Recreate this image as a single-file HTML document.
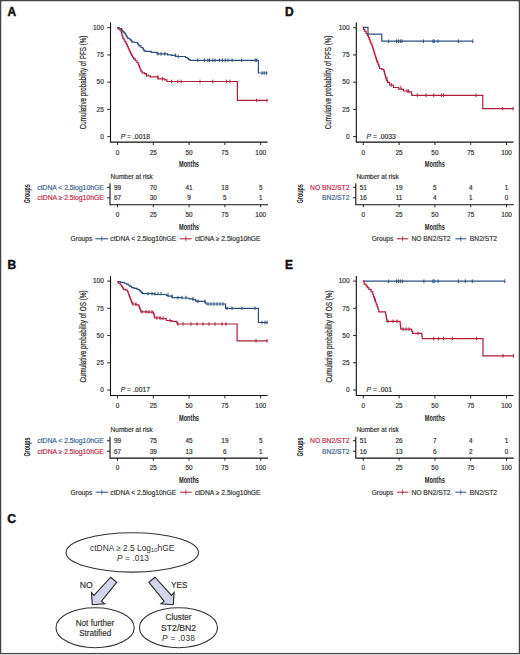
<!DOCTYPE html>
<html><head><meta charset="utf-8"><style>
html,body{margin:0;padding:0;background:#fff;}
svg{display:block;}
text{font-family:"Liberation Sans", sans-serif;}
</style></head><body>
<svg width="520" height="655" viewBox="0 0 520 655">
<rect x="0" y="0" width="520" height="655" fill="#fff"/>

<text x="7.40" y="15.80" font-size="12.0" text-anchor="start" fill="#111" font-weight="bold" font-style="normal" stroke="#111" stroke-width="0.45">A</text>
<path d="M110.50,22.50 V142.15 H267.60" fill="none" stroke="#111" stroke-width="1.1"/>
<line x1="107.20" y1="27.70" x2="110.50" y2="27.70" stroke="#111" stroke-width="0.9"/>
<text x="103.80" y="30.00" font-size="6.5" text-anchor="end" fill="#333" stroke="#333" stroke-width="0.18" font-weight="normal" font-style="normal" >100</text>
<line x1="107.20" y1="54.93" x2="110.50" y2="54.93" stroke="#111" stroke-width="0.9"/>
<text x="103.80" y="57.23" font-size="6.5" text-anchor="end" fill="#333" stroke="#333" stroke-width="0.18" font-weight="normal" font-style="normal" >75</text>
<line x1="107.20" y1="82.16" x2="110.50" y2="82.16" stroke="#111" stroke-width="0.9"/>
<text x="103.80" y="84.46" font-size="6.5" text-anchor="end" fill="#333" stroke="#333" stroke-width="0.18" font-weight="normal" font-style="normal" >50</text>
<line x1="107.20" y1="109.39" x2="110.50" y2="109.39" stroke="#111" stroke-width="0.9"/>
<text x="103.80" y="111.69" font-size="6.5" text-anchor="end" fill="#333" stroke="#333" stroke-width="0.18" font-weight="normal" font-style="normal" >25</text>
<line x1="107.20" y1="136.62" x2="110.50" y2="136.62" stroke="#111" stroke-width="0.9"/>
<text x="103.80" y="138.92" font-size="6.5" text-anchor="end" fill="#333" stroke="#333" stroke-width="0.18" font-weight="normal" font-style="normal" >0</text>
<line x1="117.50" y1="142.15" x2="117.50" y2="145.00" stroke="#111" stroke-width="0.9"/>
<text x="117.50" y="154.60" font-size="6.4" text-anchor="middle" fill="#333" stroke="#333" stroke-width="0.18" font-weight="normal" font-style="normal" >0</text>
<line x1="153.30" y1="142.15" x2="153.30" y2="145.00" stroke="#111" stroke-width="0.9"/>
<text x="153.30" y="154.60" font-size="6.4" text-anchor="middle" fill="#333" stroke="#333" stroke-width="0.18" font-weight="normal" font-style="normal" >25</text>
<line x1="189.10" y1="142.15" x2="189.10" y2="145.00" stroke="#111" stroke-width="0.9"/>
<text x="189.10" y="154.60" font-size="6.4" text-anchor="middle" fill="#333" stroke="#333" stroke-width="0.18" font-weight="normal" font-style="normal" >50</text>
<line x1="224.90" y1="142.15" x2="224.90" y2="145.00" stroke="#111" stroke-width="0.9"/>
<text x="224.90" y="154.60" font-size="6.4" text-anchor="middle" fill="#333" stroke="#333" stroke-width="0.18" font-weight="normal" font-style="normal" >75</text>
<line x1="260.70" y1="142.15" x2="260.70" y2="145.00" stroke="#111" stroke-width="0.9"/>
<text x="260.70" y="154.60" font-size="6.4" text-anchor="middle" fill="#333" stroke="#333" stroke-width="0.18" font-weight="normal" font-style="normal" >100</text>
<text x="189.00" y="167.30" font-size="8.6" text-anchor="middle" fill="#222" font-weight="bold" font-style="normal" textLength="20" lengthAdjust="spacingAndGlyphs" >Months</text>
<text x="0" y="0" font-size="9.4" text-anchor="middle" fill="#2a2a2a" stroke="#2a2a2a" stroke-width="0.22" textLength="93.5" lengthAdjust="spacingAndGlyphs" transform="translate(86.40,82.40) rotate(-90)">Cumulative probability of PFS (%)</text>
<text x="120.70" y="138.50" font-size="6.8" fill="#333" stroke="#333" stroke-width="0.18"><tspan font-style="italic">P</tspan> = .0018</text>
<text x="110.60" y="178.70" font-size="6.5" text-anchor="start" fill="#333" stroke="#333" stroke-width="0.18" font-weight="normal" font-style="normal" >Number at risk</text>
<path d="M110.00,183.30 V204.70 H268.00" fill="none" stroke="#111" stroke-width="1.1"/>
<line x1="107.00" y1="187.30" x2="110.00" y2="187.30" stroke="#111" stroke-width="0.9"/>
<text x="103.70" y="189.60" font-size="6.78" text-anchor="end" fill="#3a6592" stroke="#3a6592" stroke-width="0.18" font-weight="normal" font-style="normal" >ctDNA &lt; 2.5log10hGE</text>
<text x="117.50" y="189.60" font-size="6.4" text-anchor="middle" fill="#333" stroke="#333" stroke-width="0.18" font-weight="normal" font-style="normal" >99</text>
<text x="153.30" y="189.60" font-size="6.4" text-anchor="middle" fill="#333" stroke="#333" stroke-width="0.18" font-weight="normal" font-style="normal" >70</text>
<text x="189.10" y="189.60" font-size="6.4" text-anchor="middle" fill="#333" stroke="#333" stroke-width="0.18" font-weight="normal" font-style="normal" >41</text>
<text x="224.90" y="189.60" font-size="6.4" text-anchor="middle" fill="#333" stroke="#333" stroke-width="0.18" font-weight="normal" font-style="normal" >18</text>
<text x="260.70" y="189.60" font-size="6.4" text-anchor="middle" fill="#333" stroke="#333" stroke-width="0.18" font-weight="normal" font-style="normal" >5</text>
<line x1="107.00" y1="197.80" x2="110.00" y2="197.80" stroke="#111" stroke-width="0.9"/>
<text x="103.70" y="200.10" font-size="6.78" text-anchor="end" fill="#c02a48" stroke="#c02a48" stroke-width="0.18" font-weight="normal" font-style="normal" >ctDNA ≥ 2.5log10hGE</text>
<text x="117.50" y="200.10" font-size="6.4" text-anchor="middle" fill="#333" stroke="#333" stroke-width="0.18" font-weight="normal" font-style="normal" >67</text>
<text x="153.30" y="200.10" font-size="6.4" text-anchor="middle" fill="#333" stroke="#333" stroke-width="0.18" font-weight="normal" font-style="normal" >30</text>
<text x="189.10" y="200.10" font-size="6.4" text-anchor="middle" fill="#333" stroke="#333" stroke-width="0.18" font-weight="normal" font-style="normal" >9</text>
<text x="224.90" y="200.10" font-size="6.4" text-anchor="middle" fill="#333" stroke="#333" stroke-width="0.18" font-weight="normal" font-style="normal" >5</text>
<text x="260.70" y="200.10" font-size="6.4" text-anchor="middle" fill="#333" stroke="#333" stroke-width="0.18" font-weight="normal" font-style="normal" >1</text>
<line x1="117.50" y1="204.70" x2="117.50" y2="207.30" stroke="#111" stroke-width="0.9"/>
<text x="117.50" y="217.00" font-size="6.4" text-anchor="middle" fill="#333" stroke="#333" stroke-width="0.18" font-weight="normal" font-style="normal" >0</text>
<line x1="153.30" y1="204.70" x2="153.30" y2="207.30" stroke="#111" stroke-width="0.9"/>
<text x="153.30" y="217.00" font-size="6.4" text-anchor="middle" fill="#333" stroke="#333" stroke-width="0.18" font-weight="normal" font-style="normal" >25</text>
<line x1="189.10" y1="204.70" x2="189.10" y2="207.30" stroke="#111" stroke-width="0.9"/>
<text x="189.10" y="217.00" font-size="6.4" text-anchor="middle" fill="#333" stroke="#333" stroke-width="0.18" font-weight="normal" font-style="normal" >50</text>
<line x1="224.90" y1="204.70" x2="224.90" y2="207.30" stroke="#111" stroke-width="0.9"/>
<text x="224.90" y="217.00" font-size="6.4" text-anchor="middle" fill="#333" stroke="#333" stroke-width="0.18" font-weight="normal" font-style="normal" >75</text>
<line x1="260.70" y1="204.70" x2="260.70" y2="207.30" stroke="#111" stroke-width="0.9"/>
<text x="260.70" y="217.00" font-size="6.4" text-anchor="middle" fill="#333" stroke="#333" stroke-width="0.18" font-weight="normal" font-style="normal" >100</text>
<text x="189.00" y="229.70" font-size="8.6" text-anchor="middle" fill="#222" font-weight="bold" font-style="normal" textLength="20" lengthAdjust="spacingAndGlyphs" >Months</text>
<text x="0" y="0" font-size="8.6" text-anchor="middle" fill="#222" textLength="19" lengthAdjust="spacingAndGlyphs" transform="translate(30.20,193.70) rotate(-90)" font-weight="bold">Groups</text>
<text x="70.60" y="241.30" font-size="6.6" text-anchor="start" fill="#333" stroke="#333" stroke-width="0.18" font-weight="normal" font-style="normal" >Groups</text>
<line x1="95.50" y1="238.80" x2="108.20" y2="238.80" stroke="#2c4f7c" stroke-width="1.05"/>
<line x1="101.85" y1="236.20" x2="101.85" y2="241.40" stroke="#2c4f7c" stroke-width="0.75"/>
<text x="110.30" y="241.30" font-size="6.72" text-anchor="start" fill="#333" stroke="#333" stroke-width="0.18" font-weight="normal" font-style="normal" >ctDNA &lt; 2.5log10hGE</text>
<line x1="180.00" y1="238.80" x2="191.70" y2="238.80" stroke="#b01e3e" stroke-width="1.05"/>
<line x1="185.85" y1="236.20" x2="185.85" y2="241.40" stroke="#b01e3e" stroke-width="0.75"/>
<text x="194.90" y="241.30" font-size="6.72" text-anchor="start" fill="#333" stroke="#333" stroke-width="0.18" font-weight="normal" font-style="normal" >ctDNA ≥ 2.5log10hGE</text>
<text x="7.40" y="269.10" font-size="12.0" text-anchor="start" fill="#111" font-weight="bold" font-style="normal" stroke="#111" stroke-width="0.45">B</text>
<path d="M110.50,275.90 V395.55 H267.60" fill="none" stroke="#111" stroke-width="1.1"/>
<line x1="107.20" y1="281.10" x2="110.50" y2="281.10" stroke="#111" stroke-width="0.9"/>
<text x="103.80" y="283.40" font-size="6.5" text-anchor="end" fill="#333" stroke="#333" stroke-width="0.18" font-weight="normal" font-style="normal" >100</text>
<line x1="107.20" y1="308.33" x2="110.50" y2="308.33" stroke="#111" stroke-width="0.9"/>
<text x="103.80" y="310.63" font-size="6.5" text-anchor="end" fill="#333" stroke="#333" stroke-width="0.18" font-weight="normal" font-style="normal" >75</text>
<line x1="107.20" y1="335.56" x2="110.50" y2="335.56" stroke="#111" stroke-width="0.9"/>
<text x="103.80" y="337.86" font-size="6.5" text-anchor="end" fill="#333" stroke="#333" stroke-width="0.18" font-weight="normal" font-style="normal" >50</text>
<line x1="107.20" y1="362.79" x2="110.50" y2="362.79" stroke="#111" stroke-width="0.9"/>
<text x="103.80" y="365.09" font-size="6.5" text-anchor="end" fill="#333" stroke="#333" stroke-width="0.18" font-weight="normal" font-style="normal" >25</text>
<line x1="107.20" y1="390.02" x2="110.50" y2="390.02" stroke="#111" stroke-width="0.9"/>
<text x="103.80" y="392.32" font-size="6.5" text-anchor="end" fill="#333" stroke="#333" stroke-width="0.18" font-weight="normal" font-style="normal" >0</text>
<line x1="117.50" y1="395.55" x2="117.50" y2="398.40" stroke="#111" stroke-width="0.9"/>
<text x="117.50" y="408.00" font-size="6.4" text-anchor="middle" fill="#333" stroke="#333" stroke-width="0.18" font-weight="normal" font-style="normal" >0</text>
<line x1="153.30" y1="395.55" x2="153.30" y2="398.40" stroke="#111" stroke-width="0.9"/>
<text x="153.30" y="408.00" font-size="6.4" text-anchor="middle" fill="#333" stroke="#333" stroke-width="0.18" font-weight="normal" font-style="normal" >25</text>
<line x1="189.10" y1="395.55" x2="189.10" y2="398.40" stroke="#111" stroke-width="0.9"/>
<text x="189.10" y="408.00" font-size="6.4" text-anchor="middle" fill="#333" stroke="#333" stroke-width="0.18" font-weight="normal" font-style="normal" >50</text>
<line x1="224.90" y1="395.55" x2="224.90" y2="398.40" stroke="#111" stroke-width="0.9"/>
<text x="224.90" y="408.00" font-size="6.4" text-anchor="middle" fill="#333" stroke="#333" stroke-width="0.18" font-weight="normal" font-style="normal" >75</text>
<line x1="260.70" y1="395.55" x2="260.70" y2="398.40" stroke="#111" stroke-width="0.9"/>
<text x="260.70" y="408.00" font-size="6.4" text-anchor="middle" fill="#333" stroke="#333" stroke-width="0.18" font-weight="normal" font-style="normal" >100</text>
<text x="189.00" y="420.70" font-size="8.6" text-anchor="middle" fill="#222" font-weight="bold" font-style="normal" textLength="20" lengthAdjust="spacingAndGlyphs" >Months</text>
<text x="0" y="0" font-size="9.4" text-anchor="middle" fill="#2a2a2a" stroke="#2a2a2a" stroke-width="0.22" textLength="92" lengthAdjust="spacingAndGlyphs" transform="translate(86.40,336.50) rotate(-90)">Cumulative probability of OS (%)</text>
<text x="120.70" y="391.90" font-size="6.8" fill="#333" stroke="#333" stroke-width="0.18"><tspan font-style="italic">P</tspan> = .0017</text>
<text x="110.60" y="432.10" font-size="6.5" text-anchor="start" fill="#333" stroke="#333" stroke-width="0.18" font-weight="normal" font-style="normal" >Number at risk</text>
<path d="M110.00,436.70 V458.10 H268.00" fill="none" stroke="#111" stroke-width="1.1"/>
<line x1="107.00" y1="440.70" x2="110.00" y2="440.70" stroke="#111" stroke-width="0.9"/>
<text x="103.70" y="443.00" font-size="6.78" text-anchor="end" fill="#3a6592" stroke="#3a6592" stroke-width="0.18" font-weight="normal" font-style="normal" >ctDNA &lt; 2.5log10hGE</text>
<text x="117.50" y="443.00" font-size="6.4" text-anchor="middle" fill="#333" stroke="#333" stroke-width="0.18" font-weight="normal" font-style="normal" >99</text>
<text x="153.30" y="443.00" font-size="6.4" text-anchor="middle" fill="#333" stroke="#333" stroke-width="0.18" font-weight="normal" font-style="normal" >75</text>
<text x="189.10" y="443.00" font-size="6.4" text-anchor="middle" fill="#333" stroke="#333" stroke-width="0.18" font-weight="normal" font-style="normal" >45</text>
<text x="224.90" y="443.00" font-size="6.4" text-anchor="middle" fill="#333" stroke="#333" stroke-width="0.18" font-weight="normal" font-style="normal" >19</text>
<text x="260.70" y="443.00" font-size="6.4" text-anchor="middle" fill="#333" stroke="#333" stroke-width="0.18" font-weight="normal" font-style="normal" >5</text>
<line x1="107.00" y1="451.20" x2="110.00" y2="451.20" stroke="#111" stroke-width="0.9"/>
<text x="103.70" y="453.50" font-size="6.78" text-anchor="end" fill="#c02a48" stroke="#c02a48" stroke-width="0.18" font-weight="normal" font-style="normal" >ctDNA ≥ 2.5log10hGE</text>
<text x="117.50" y="453.50" font-size="6.4" text-anchor="middle" fill="#333" stroke="#333" stroke-width="0.18" font-weight="normal" font-style="normal" >67</text>
<text x="153.30" y="453.50" font-size="6.4" text-anchor="middle" fill="#333" stroke="#333" stroke-width="0.18" font-weight="normal" font-style="normal" >39</text>
<text x="189.10" y="453.50" font-size="6.4" text-anchor="middle" fill="#333" stroke="#333" stroke-width="0.18" font-weight="normal" font-style="normal" >13</text>
<text x="224.90" y="453.50" font-size="6.4" text-anchor="middle" fill="#333" stroke="#333" stroke-width="0.18" font-weight="normal" font-style="normal" >6</text>
<text x="260.70" y="453.50" font-size="6.4" text-anchor="middle" fill="#333" stroke="#333" stroke-width="0.18" font-weight="normal" font-style="normal" >1</text>
<line x1="117.50" y1="458.10" x2="117.50" y2="460.70" stroke="#111" stroke-width="0.9"/>
<text x="117.50" y="470.40" font-size="6.4" text-anchor="middle" fill="#333" stroke="#333" stroke-width="0.18" font-weight="normal" font-style="normal" >0</text>
<line x1="153.30" y1="458.10" x2="153.30" y2="460.70" stroke="#111" stroke-width="0.9"/>
<text x="153.30" y="470.40" font-size="6.4" text-anchor="middle" fill="#333" stroke="#333" stroke-width="0.18" font-weight="normal" font-style="normal" >25</text>
<line x1="189.10" y1="458.10" x2="189.10" y2="460.70" stroke="#111" stroke-width="0.9"/>
<text x="189.10" y="470.40" font-size="6.4" text-anchor="middle" fill="#333" stroke="#333" stroke-width="0.18" font-weight="normal" font-style="normal" >50</text>
<line x1="224.90" y1="458.10" x2="224.90" y2="460.70" stroke="#111" stroke-width="0.9"/>
<text x="224.90" y="470.40" font-size="6.4" text-anchor="middle" fill="#333" stroke="#333" stroke-width="0.18" font-weight="normal" font-style="normal" >75</text>
<line x1="260.70" y1="458.10" x2="260.70" y2="460.70" stroke="#111" stroke-width="0.9"/>
<text x="260.70" y="470.40" font-size="6.4" text-anchor="middle" fill="#333" stroke="#333" stroke-width="0.18" font-weight="normal" font-style="normal" >100</text>
<text x="189.00" y="483.10" font-size="8.6" text-anchor="middle" fill="#222" font-weight="bold" font-style="normal" textLength="20" lengthAdjust="spacingAndGlyphs" >Months</text>
<text x="0" y="0" font-size="8.6" text-anchor="middle" fill="#222" textLength="19" lengthAdjust="spacingAndGlyphs" transform="translate(30.20,447.10) rotate(-90)" font-weight="bold">Groups</text>
<text x="70.60" y="494.70" font-size="6.6" text-anchor="start" fill="#333" stroke="#333" stroke-width="0.18" font-weight="normal" font-style="normal" >Groups</text>
<line x1="95.50" y1="492.20" x2="108.20" y2="492.20" stroke="#2c4f7c" stroke-width="1.05"/>
<line x1="101.85" y1="489.60" x2="101.85" y2="494.80" stroke="#2c4f7c" stroke-width="0.75"/>
<text x="110.30" y="494.70" font-size="6.72" text-anchor="start" fill="#333" stroke="#333" stroke-width="0.18" font-weight="normal" font-style="normal" >ctDNA &lt; 2.5log10hGE</text>
<line x1="180.00" y1="492.20" x2="191.70" y2="492.20" stroke="#b01e3e" stroke-width="1.05"/>
<line x1="185.85" y1="489.60" x2="185.85" y2="494.80" stroke="#b01e3e" stroke-width="0.75"/>
<text x="194.90" y="494.70" font-size="6.72" text-anchor="start" fill="#333" stroke="#333" stroke-width="0.18" font-weight="normal" font-style="normal" >ctDNA ≥ 2.5log10hGE</text>
<text x="285.00" y="15.80" font-size="12.0" text-anchor="start" fill="#111" font-weight="bold" font-style="normal" stroke="#111" stroke-width="0.45">D</text>
<path d="M356.30,22.50 V142.15 H513.40" fill="none" stroke="#111" stroke-width="1.1"/>
<line x1="353.00" y1="27.70" x2="356.30" y2="27.70" stroke="#111" stroke-width="0.9"/>
<text x="349.60" y="30.00" font-size="6.5" text-anchor="end" fill="#333" stroke="#333" stroke-width="0.18" font-weight="normal" font-style="normal" >100</text>
<line x1="353.00" y1="54.93" x2="356.30" y2="54.93" stroke="#111" stroke-width="0.9"/>
<text x="349.60" y="57.23" font-size="6.5" text-anchor="end" fill="#333" stroke="#333" stroke-width="0.18" font-weight="normal" font-style="normal" >75</text>
<line x1="353.00" y1="82.16" x2="356.30" y2="82.16" stroke="#111" stroke-width="0.9"/>
<text x="349.60" y="84.46" font-size="6.5" text-anchor="end" fill="#333" stroke="#333" stroke-width="0.18" font-weight="normal" font-style="normal" >50</text>
<line x1="353.00" y1="109.39" x2="356.30" y2="109.39" stroke="#111" stroke-width="0.9"/>
<text x="349.60" y="111.69" font-size="6.5" text-anchor="end" fill="#333" stroke="#333" stroke-width="0.18" font-weight="normal" font-style="normal" >25</text>
<line x1="353.00" y1="136.62" x2="356.30" y2="136.62" stroke="#111" stroke-width="0.9"/>
<text x="349.60" y="138.92" font-size="6.5" text-anchor="end" fill="#333" stroke="#333" stroke-width="0.18" font-weight="normal" font-style="normal" >0</text>
<line x1="363.30" y1="142.15" x2="363.30" y2="145.00" stroke="#111" stroke-width="0.9"/>
<text x="363.30" y="154.60" font-size="6.4" text-anchor="middle" fill="#333" stroke="#333" stroke-width="0.18" font-weight="normal" font-style="normal" >0</text>
<line x1="399.10" y1="142.15" x2="399.10" y2="145.00" stroke="#111" stroke-width="0.9"/>
<text x="399.10" y="154.60" font-size="6.4" text-anchor="middle" fill="#333" stroke="#333" stroke-width="0.18" font-weight="normal" font-style="normal" >25</text>
<line x1="434.90" y1="142.15" x2="434.90" y2="145.00" stroke="#111" stroke-width="0.9"/>
<text x="434.90" y="154.60" font-size="6.4" text-anchor="middle" fill="#333" stroke="#333" stroke-width="0.18" font-weight="normal" font-style="normal" >50</text>
<line x1="470.70" y1="142.15" x2="470.70" y2="145.00" stroke="#111" stroke-width="0.9"/>
<text x="470.70" y="154.60" font-size="6.4" text-anchor="middle" fill="#333" stroke="#333" stroke-width="0.18" font-weight="normal" font-style="normal" >75</text>
<line x1="506.50" y1="142.15" x2="506.50" y2="145.00" stroke="#111" stroke-width="0.9"/>
<text x="506.50" y="154.60" font-size="6.4" text-anchor="middle" fill="#333" stroke="#333" stroke-width="0.18" font-weight="normal" font-style="normal" >100</text>
<text x="434.80" y="167.30" font-size="8.6" text-anchor="middle" fill="#222" font-weight="bold" font-style="normal" textLength="20" lengthAdjust="spacingAndGlyphs" >Months</text>
<text x="0" y="0" font-size="9.4" text-anchor="middle" fill="#2a2a2a" stroke="#2a2a2a" stroke-width="0.22" textLength="93.5" lengthAdjust="spacingAndGlyphs" transform="translate(331.20,82.40) rotate(-90)">Cumulative probability of PFS (%)</text>
<text x="366.50" y="138.50" font-size="6.8" fill="#333" stroke="#333" stroke-width="0.18"><tspan font-style="italic">P</tspan> = .0033</text>
<text x="356.40" y="178.70" font-size="6.5" text-anchor="start" fill="#333" stroke="#333" stroke-width="0.18" font-weight="normal" font-style="normal" >Number at risk</text>
<path d="M355.80,183.30 V204.70 H513.80" fill="none" stroke="#111" stroke-width="1.1"/>
<line x1="352.80" y1="187.30" x2="355.80" y2="187.30" stroke="#111" stroke-width="0.9"/>
<text x="349.50" y="189.60" font-size="6.78" text-anchor="end" fill="#c02a48" stroke="#c02a48" stroke-width="0.18" font-weight="normal" font-style="normal" >NO BN2/ST2</text>
<text x="363.30" y="189.60" font-size="6.4" text-anchor="middle" fill="#333" stroke="#333" stroke-width="0.18" font-weight="normal" font-style="normal" >51</text>
<text x="399.10" y="189.60" font-size="6.4" text-anchor="middle" fill="#333" stroke="#333" stroke-width="0.18" font-weight="normal" font-style="normal" >19</text>
<text x="434.90" y="189.60" font-size="6.4" text-anchor="middle" fill="#333" stroke="#333" stroke-width="0.18" font-weight="normal" font-style="normal" >5</text>
<text x="470.70" y="189.60" font-size="6.4" text-anchor="middle" fill="#333" stroke="#333" stroke-width="0.18" font-weight="normal" font-style="normal" >4</text>
<text x="506.50" y="189.60" font-size="6.4" text-anchor="middle" fill="#333" stroke="#333" stroke-width="0.18" font-weight="normal" font-style="normal" >1</text>
<line x1="352.80" y1="197.80" x2="355.80" y2="197.80" stroke="#111" stroke-width="0.9"/>
<text x="349.50" y="200.10" font-size="6.78" text-anchor="end" fill="#3a6592" stroke="#3a6592" stroke-width="0.18" font-weight="normal" font-style="normal" >BN2/ST2</text>
<text x="363.30" y="200.10" font-size="6.4" text-anchor="middle" fill="#333" stroke="#333" stroke-width="0.18" font-weight="normal" font-style="normal" >16</text>
<text x="399.10" y="200.10" font-size="6.4" text-anchor="middle" fill="#333" stroke="#333" stroke-width="0.18" font-weight="normal" font-style="normal" >11</text>
<text x="434.90" y="200.10" font-size="6.4" text-anchor="middle" fill="#333" stroke="#333" stroke-width="0.18" font-weight="normal" font-style="normal" >4</text>
<text x="470.70" y="200.10" font-size="6.4" text-anchor="middle" fill="#333" stroke="#333" stroke-width="0.18" font-weight="normal" font-style="normal" >1</text>
<text x="506.50" y="200.10" font-size="6.4" text-anchor="middle" fill="#333" stroke="#333" stroke-width="0.18" font-weight="normal" font-style="normal" >0</text>
<line x1="363.30" y1="204.70" x2="363.30" y2="207.30" stroke="#111" stroke-width="0.9"/>
<text x="363.30" y="217.00" font-size="6.4" text-anchor="middle" fill="#333" stroke="#333" stroke-width="0.18" font-weight="normal" font-style="normal" >0</text>
<line x1="399.10" y1="204.70" x2="399.10" y2="207.30" stroke="#111" stroke-width="0.9"/>
<text x="399.10" y="217.00" font-size="6.4" text-anchor="middle" fill="#333" stroke="#333" stroke-width="0.18" font-weight="normal" font-style="normal" >25</text>
<line x1="434.90" y1="204.70" x2="434.90" y2="207.30" stroke="#111" stroke-width="0.9"/>
<text x="434.90" y="217.00" font-size="6.4" text-anchor="middle" fill="#333" stroke="#333" stroke-width="0.18" font-weight="normal" font-style="normal" >50</text>
<line x1="470.70" y1="204.70" x2="470.70" y2="207.30" stroke="#111" stroke-width="0.9"/>
<text x="470.70" y="217.00" font-size="6.4" text-anchor="middle" fill="#333" stroke="#333" stroke-width="0.18" font-weight="normal" font-style="normal" >75</text>
<line x1="506.50" y1="204.70" x2="506.50" y2="207.30" stroke="#111" stroke-width="0.9"/>
<text x="506.50" y="217.00" font-size="6.4" text-anchor="middle" fill="#333" stroke="#333" stroke-width="0.18" font-weight="normal" font-style="normal" >100</text>
<text x="434.80" y="229.70" font-size="8.6" text-anchor="middle" fill="#222" font-weight="bold" font-style="normal" textLength="20" lengthAdjust="spacingAndGlyphs" >Months</text>
<text x="0" y="0" font-size="8.6" text-anchor="middle" fill="#222" textLength="19" lengthAdjust="spacingAndGlyphs" transform="translate(303.30,193.70) rotate(-90)" font-weight="bold">Groups</text>
<text x="371.70" y="241.30" font-size="6.6" text-anchor="start" fill="#333" stroke="#333" stroke-width="0.18" font-weight="normal" font-style="normal" >Groups</text>
<line x1="396.90" y1="238.80" x2="408.30" y2="238.80" stroke="#b01e3e" stroke-width="1.05"/>
<line x1="402.60" y1="236.20" x2="402.60" y2="241.40" stroke="#b01e3e" stroke-width="0.75"/>
<text x="411.40" y="241.30" font-size="6.72" text-anchor="start" fill="#333" stroke="#333" stroke-width="0.18" font-weight="normal" font-style="normal" >NO BN2/ST2</text>
<line x1="455.40" y1="238.80" x2="466.20" y2="238.80" stroke="#2c4f7c" stroke-width="1.05"/>
<line x1="460.80" y1="236.20" x2="460.80" y2="241.40" stroke="#2c4f7c" stroke-width="0.75"/>
<text x="469.80" y="241.30" font-size="6.72" text-anchor="start" fill="#333" stroke="#333" stroke-width="0.18" font-weight="normal" font-style="normal" >BN2/ST2</text>
<text x="285.00" y="269.10" font-size="12.0" text-anchor="start" fill="#111" font-weight="bold" font-style="normal" stroke="#111" stroke-width="0.45">E</text>
<path d="M356.30,275.90 V395.55 H513.40" fill="none" stroke="#111" stroke-width="1.1"/>
<line x1="353.00" y1="281.10" x2="356.30" y2="281.10" stroke="#111" stroke-width="0.9"/>
<text x="349.60" y="283.40" font-size="6.5" text-anchor="end" fill="#333" stroke="#333" stroke-width="0.18" font-weight="normal" font-style="normal" >100</text>
<line x1="353.00" y1="308.33" x2="356.30" y2="308.33" stroke="#111" stroke-width="0.9"/>
<text x="349.60" y="310.63" font-size="6.5" text-anchor="end" fill="#333" stroke="#333" stroke-width="0.18" font-weight="normal" font-style="normal" >75</text>
<line x1="353.00" y1="335.56" x2="356.30" y2="335.56" stroke="#111" stroke-width="0.9"/>
<text x="349.60" y="337.86" font-size="6.5" text-anchor="end" fill="#333" stroke="#333" stroke-width="0.18" font-weight="normal" font-style="normal" >50</text>
<line x1="353.00" y1="362.79" x2="356.30" y2="362.79" stroke="#111" stroke-width="0.9"/>
<text x="349.60" y="365.09" font-size="6.5" text-anchor="end" fill="#333" stroke="#333" stroke-width="0.18" font-weight="normal" font-style="normal" >25</text>
<line x1="353.00" y1="390.02" x2="356.30" y2="390.02" stroke="#111" stroke-width="0.9"/>
<text x="349.60" y="392.32" font-size="6.5" text-anchor="end" fill="#333" stroke="#333" stroke-width="0.18" font-weight="normal" font-style="normal" >0</text>
<line x1="363.30" y1="395.55" x2="363.30" y2="398.40" stroke="#111" stroke-width="0.9"/>
<text x="363.30" y="408.00" font-size="6.4" text-anchor="middle" fill="#333" stroke="#333" stroke-width="0.18" font-weight="normal" font-style="normal" >0</text>
<line x1="399.10" y1="395.55" x2="399.10" y2="398.40" stroke="#111" stroke-width="0.9"/>
<text x="399.10" y="408.00" font-size="6.4" text-anchor="middle" fill="#333" stroke="#333" stroke-width="0.18" font-weight="normal" font-style="normal" >25</text>
<line x1="434.90" y1="395.55" x2="434.90" y2="398.40" stroke="#111" stroke-width="0.9"/>
<text x="434.90" y="408.00" font-size="6.4" text-anchor="middle" fill="#333" stroke="#333" stroke-width="0.18" font-weight="normal" font-style="normal" >50</text>
<line x1="470.70" y1="395.55" x2="470.70" y2="398.40" stroke="#111" stroke-width="0.9"/>
<text x="470.70" y="408.00" font-size="6.4" text-anchor="middle" fill="#333" stroke="#333" stroke-width="0.18" font-weight="normal" font-style="normal" >75</text>
<line x1="506.50" y1="395.55" x2="506.50" y2="398.40" stroke="#111" stroke-width="0.9"/>
<text x="506.50" y="408.00" font-size="6.4" text-anchor="middle" fill="#333" stroke="#333" stroke-width="0.18" font-weight="normal" font-style="normal" >100</text>
<text x="434.80" y="420.70" font-size="8.6" text-anchor="middle" fill="#222" font-weight="bold" font-style="normal" textLength="20" lengthAdjust="spacingAndGlyphs" >Months</text>
<text x="0" y="0" font-size="9.4" text-anchor="middle" fill="#2a2a2a" stroke="#2a2a2a" stroke-width="0.22" textLength="92" lengthAdjust="spacingAndGlyphs" transform="translate(332.30,336.50) rotate(-90)">Cumulative probability of OS (%)</text>
<text x="366.50" y="391.90" font-size="6.8" fill="#333" stroke="#333" stroke-width="0.18"><tspan font-style="italic">P</tspan> = .001</text>
<text x="356.40" y="432.10" font-size="6.5" text-anchor="start" fill="#333" stroke="#333" stroke-width="0.18" font-weight="normal" font-style="normal" >Number at risk</text>
<path d="M355.80,436.70 V458.10 H513.80" fill="none" stroke="#111" stroke-width="1.1"/>
<line x1="352.80" y1="440.70" x2="355.80" y2="440.70" stroke="#111" stroke-width="0.9"/>
<text x="349.50" y="443.00" font-size="6.78" text-anchor="end" fill="#c02a48" stroke="#c02a48" stroke-width="0.18" font-weight="normal" font-style="normal" >NO BN2/ST2</text>
<text x="363.30" y="443.00" font-size="6.4" text-anchor="middle" fill="#333" stroke="#333" stroke-width="0.18" font-weight="normal" font-style="normal" >51</text>
<text x="399.10" y="443.00" font-size="6.4" text-anchor="middle" fill="#333" stroke="#333" stroke-width="0.18" font-weight="normal" font-style="normal" >26</text>
<text x="434.90" y="443.00" font-size="6.4" text-anchor="middle" fill="#333" stroke="#333" stroke-width="0.18" font-weight="normal" font-style="normal" >7</text>
<text x="470.70" y="443.00" font-size="6.4" text-anchor="middle" fill="#333" stroke="#333" stroke-width="0.18" font-weight="normal" font-style="normal" >4</text>
<text x="506.50" y="443.00" font-size="6.4" text-anchor="middle" fill="#333" stroke="#333" stroke-width="0.18" font-weight="normal" font-style="normal" >1</text>
<line x1="352.80" y1="451.20" x2="355.80" y2="451.20" stroke="#111" stroke-width="0.9"/>
<text x="349.50" y="453.50" font-size="6.78" text-anchor="end" fill="#3a6592" stroke="#3a6592" stroke-width="0.18" font-weight="normal" font-style="normal" >BN2/ST2</text>
<text x="363.30" y="453.50" font-size="6.4" text-anchor="middle" fill="#333" stroke="#333" stroke-width="0.18" font-weight="normal" font-style="normal" >16</text>
<text x="399.10" y="453.50" font-size="6.4" text-anchor="middle" fill="#333" stroke="#333" stroke-width="0.18" font-weight="normal" font-style="normal" >13</text>
<text x="434.90" y="453.50" font-size="6.4" text-anchor="middle" fill="#333" stroke="#333" stroke-width="0.18" font-weight="normal" font-style="normal" >6</text>
<text x="470.70" y="453.50" font-size="6.4" text-anchor="middle" fill="#333" stroke="#333" stroke-width="0.18" font-weight="normal" font-style="normal" >2</text>
<text x="506.50" y="453.50" font-size="6.4" text-anchor="middle" fill="#333" stroke="#333" stroke-width="0.18" font-weight="normal" font-style="normal" >0</text>
<line x1="363.30" y1="458.10" x2="363.30" y2="460.70" stroke="#111" stroke-width="0.9"/>
<text x="363.30" y="470.40" font-size="6.4" text-anchor="middle" fill="#333" stroke="#333" stroke-width="0.18" font-weight="normal" font-style="normal" >0</text>
<line x1="399.10" y1="458.10" x2="399.10" y2="460.70" stroke="#111" stroke-width="0.9"/>
<text x="399.10" y="470.40" font-size="6.4" text-anchor="middle" fill="#333" stroke="#333" stroke-width="0.18" font-weight="normal" font-style="normal" >25</text>
<line x1="434.90" y1="458.10" x2="434.90" y2="460.70" stroke="#111" stroke-width="0.9"/>
<text x="434.90" y="470.40" font-size="6.4" text-anchor="middle" fill="#333" stroke="#333" stroke-width="0.18" font-weight="normal" font-style="normal" >50</text>
<line x1="470.70" y1="458.10" x2="470.70" y2="460.70" stroke="#111" stroke-width="0.9"/>
<text x="470.70" y="470.40" font-size="6.4" text-anchor="middle" fill="#333" stroke="#333" stroke-width="0.18" font-weight="normal" font-style="normal" >75</text>
<line x1="506.50" y1="458.10" x2="506.50" y2="460.70" stroke="#111" stroke-width="0.9"/>
<text x="506.50" y="470.40" font-size="6.4" text-anchor="middle" fill="#333" stroke="#333" stroke-width="0.18" font-weight="normal" font-style="normal" >100</text>
<text x="434.80" y="483.10" font-size="8.6" text-anchor="middle" fill="#222" font-weight="bold" font-style="normal" textLength="20" lengthAdjust="spacingAndGlyphs" >Months</text>
<text x="0" y="0" font-size="8.6" text-anchor="middle" fill="#222" textLength="19" lengthAdjust="spacingAndGlyphs" transform="translate(303.30,447.10) rotate(-90)" font-weight="bold">Groups</text>
<text x="371.70" y="494.70" font-size="6.6" text-anchor="start" fill="#333" stroke="#333" stroke-width="0.18" font-weight="normal" font-style="normal" >Groups</text>
<line x1="396.90" y1="492.20" x2="408.30" y2="492.20" stroke="#b01e3e" stroke-width="1.05"/>
<line x1="402.60" y1="489.60" x2="402.60" y2="494.80" stroke="#b01e3e" stroke-width="0.75"/>
<text x="411.40" y="494.70" font-size="6.72" text-anchor="start" fill="#333" stroke="#333" stroke-width="0.18" font-weight="normal" font-style="normal" >NO BN2/ST2</text>
<line x1="455.40" y1="492.20" x2="466.20" y2="492.20" stroke="#2c4f7c" stroke-width="1.05"/>
<line x1="460.80" y1="489.60" x2="460.80" y2="494.80" stroke="#2c4f7c" stroke-width="0.75"/>
<text x="469.80" y="494.70" font-size="6.72" text-anchor="start" fill="#333" stroke="#333" stroke-width="0.18" font-weight="normal" font-style="normal" >BN2/ST2</text>
<path d="M117.10,27.50 H119.20 V28.60 H121.30 H121.60 V29.75 H122.20 V30.90 H122.50 H123.00 V31.93 H124.00 V32.97 H125.00 V34.00 H125.50 H125.79 V35.05 H126.36 V36.10 H126.94 V37.15 H127.51 V38.20 H127.80 H129.00 V39.00 H130.20 H130.58 V40.03 H131.35 V41.07 H132.12 V42.10 H132.50 H134.80 V42.50 H137.10 H137.48 V43.63 H138.25 V44.77 H139.02 V45.90 H139.40 H140.95 V47.50 H142.50 H142.82 V48.63 H143.45 V49.77 H144.08 V50.90 H144.40 H145.45 V51.40 H146.50 H151.30 V52.40 H156.10 H157.05 V53.80 H158.00 L166.70,53.80 H167.65 V54.80 H168.60 H171.50 V55.30 H174.40 H175.85 V56.50 H177.30 L184.30,56.50 H185.50 V57.50 H186.70 H187.30 V58.45 H188.50 V59.40 H189.10 H190.05 V60.30 H191.00 L258.40,60.30 L258.40,73.00 L267.40,73.00" fill="none" stroke="#2c4f7c" stroke-width="1.2" stroke-linejoin="miter"/>
<line x1="158.00" y1="52.00" x2="158.00" y2="55.60" stroke="#2c4f7c" stroke-width="1.0"/>
<line x1="161.00" y1="52.00" x2="161.00" y2="55.60" stroke="#2c4f7c" stroke-width="1.0"/>
<line x1="164.80" y1="52.00" x2="164.80" y2="55.60" stroke="#2c4f7c" stroke-width="1.0"/>
<line x1="175.30" y1="53.50" x2="175.30" y2="57.10" stroke="#2c4f7c" stroke-width="1.0"/>
<line x1="178.20" y1="54.70" x2="178.20" y2="58.30" stroke="#2c4f7c" stroke-width="1.0"/>
<line x1="197.80" y1="58.50" x2="197.80" y2="62.10" stroke="#2c4f7c" stroke-width="1.0"/>
<line x1="204.40" y1="58.50" x2="204.40" y2="62.10" stroke="#2c4f7c" stroke-width="1.0"/>
<line x1="207.90" y1="58.50" x2="207.90" y2="62.10" stroke="#2c4f7c" stroke-width="1.0"/>
<line x1="209.50" y1="58.50" x2="209.50" y2="62.10" stroke="#2c4f7c" stroke-width="1.0"/>
<line x1="212.80" y1="58.50" x2="212.80" y2="62.10" stroke="#2c4f7c" stroke-width="1.0"/>
<line x1="215.00" y1="58.50" x2="215.00" y2="62.10" stroke="#2c4f7c" stroke-width="1.0"/>
<line x1="219.40" y1="58.50" x2="219.40" y2="62.10" stroke="#2c4f7c" stroke-width="1.0"/>
<line x1="222.40" y1="58.50" x2="222.40" y2="62.10" stroke="#2c4f7c" stroke-width="1.0"/>
<line x1="225.20" y1="58.50" x2="225.20" y2="62.10" stroke="#2c4f7c" stroke-width="1.0"/>
<line x1="228.00" y1="58.50" x2="228.00" y2="62.10" stroke="#2c4f7c" stroke-width="1.0"/>
<line x1="232.10" y1="58.50" x2="232.10" y2="62.10" stroke="#2c4f7c" stroke-width="1.0"/>
<line x1="241.70" y1="58.50" x2="241.70" y2="62.10" stroke="#2c4f7c" stroke-width="1.0"/>
<line x1="255.20" y1="58.50" x2="255.20" y2="62.10" stroke="#2c4f7c" stroke-width="1.0"/>
<line x1="256.70" y1="58.50" x2="256.70" y2="62.10" stroke="#2c4f7c" stroke-width="1.0"/>
<line x1="262.00" y1="71.20" x2="262.00" y2="74.80" stroke="#2c4f7c" stroke-width="1.0"/>
<line x1="264.20" y1="71.20" x2="264.20" y2="74.80" stroke="#2c4f7c" stroke-width="1.0"/>
<line x1="266.60" y1="71.20" x2="266.60" y2="74.80" stroke="#2c4f7c" stroke-width="1.0"/>
<path d="M117.10,27.50 H118.05 V28.85 H119.95 V30.20 H120.90 H121.10 V31.82 H121.50 V33.45 H121.90 V35.08 H122.30 V36.70 H122.50 H122.97 V38.33 H123.92 V39.95 H124.88 V41.58 H125.83 V43.20 H126.30 H126.69 V44.95 H127.46 V46.70 H128.24 V48.45 H129.01 V50.20 H129.40 H129.83 V51.95 H130.68 V53.70 H131.53 V55.45 H132.38 V57.20 H132.80 H133.63 V58.97 H135.30 V60.73 H136.97 V62.50 H137.80 H138.13 V64.10 H138.80 V65.70 H139.47 V67.30 H139.80 H140.15 V69.25 H140.85 V71.20 H141.20 H142.15 V72.90 H143.10 H144.55 V73.60 H146.00 H146.25 V75.00 H146.50 H148.20 V75.80 H149.90 H150.35 V76.90 H150.80 L157.10,76.90 H157.80 V78.80 H158.50 L162.80,78.80 H164.75 V79.80 H166.70 H166.95 V81.50 H167.20 L237.40,81.50 L237.40,100.40 L267.40,100.40" fill="none" stroke="#b01e3e" stroke-width="1.2" stroke-linejoin="miter"/>
<line x1="146.50" y1="73.20" x2="146.50" y2="76.80" stroke="#b01e3e" stroke-width="1.0"/>
<line x1="158.00" y1="75.10" x2="158.00" y2="78.70" stroke="#b01e3e" stroke-width="1.0"/>
<line x1="162.40" y1="77.00" x2="162.40" y2="80.60" stroke="#b01e3e" stroke-width="1.0"/>
<line x1="171.50" y1="79.70" x2="171.50" y2="83.30" stroke="#b01e3e" stroke-width="1.0"/>
<line x1="177.80" y1="79.70" x2="177.80" y2="83.30" stroke="#b01e3e" stroke-width="1.0"/>
<line x1="181.10" y1="79.70" x2="181.10" y2="83.30" stroke="#b01e3e" stroke-width="1.0"/>
<line x1="200.00" y1="79.70" x2="200.00" y2="83.30" stroke="#b01e3e" stroke-width="1.0"/>
<line x1="212.80" y1="79.70" x2="212.80" y2="83.30" stroke="#b01e3e" stroke-width="1.0"/>
<line x1="226.70" y1="79.70" x2="226.70" y2="83.30" stroke="#b01e3e" stroke-width="1.0"/>
<line x1="229.90" y1="79.70" x2="229.90" y2="83.30" stroke="#b01e3e" stroke-width="1.0"/>
<line x1="256.70" y1="98.60" x2="256.70" y2="102.20" stroke="#b01e3e" stroke-width="1.0"/>
<line x1="267.00" y1="98.60" x2="267.00" y2="102.20" stroke="#b01e3e" stroke-width="1.0"/>
<path d="M362.80,27.30 L368.00,27.30 L368.00,34.20 L381.80,34.20 L381.80,41.20 L472.80,41.20" fill="none" stroke="#2c4f7c" stroke-width="1.2" stroke-linejoin="miter"/>
<line x1="388.70" y1="39.40" x2="388.70" y2="43.00" stroke="#2c4f7c" stroke-width="1.0"/>
<line x1="396.50" y1="39.40" x2="396.50" y2="43.00" stroke="#2c4f7c" stroke-width="1.0"/>
<line x1="398.30" y1="39.40" x2="398.30" y2="43.00" stroke="#2c4f7c" stroke-width="1.0"/>
<line x1="400.30" y1="39.40" x2="400.30" y2="43.00" stroke="#2c4f7c" stroke-width="1.0"/>
<line x1="402.00" y1="39.40" x2="402.00" y2="43.00" stroke="#2c4f7c" stroke-width="1.0"/>
<line x1="423.40" y1="39.40" x2="423.40" y2="43.00" stroke="#2c4f7c" stroke-width="1.0"/>
<line x1="432.90" y1="39.40" x2="432.90" y2="43.00" stroke="#2c4f7c" stroke-width="1.0"/>
<line x1="434.30" y1="39.40" x2="434.30" y2="43.00" stroke="#2c4f7c" stroke-width="1.0"/>
<line x1="438.00" y1="39.40" x2="438.00" y2="43.00" stroke="#2c4f7c" stroke-width="1.0"/>
<line x1="458.40" y1="39.40" x2="458.40" y2="43.00" stroke="#2c4f7c" stroke-width="1.0"/>
<line x1="472.80" y1="39.40" x2="472.80" y2="43.00" stroke="#2c4f7c" stroke-width="1.0"/>
<path d="M362.80,27.30 H363.45 V29.38 H364.75 V31.45 H366.05 V33.52 H367.35 V35.60 H368.00 H368.43 V37.68 H369.29 V39.76 H370.15 V41.84 H371.01 V43.92 H371.87 V46.00 H372.30 H372.61 V47.97 H373.22 V49.94 H373.84 V51.91 H374.45 V53.89 H375.06 V55.86 H375.68 V57.83 H376.29 V59.80 H376.60 H377.03 V61.97 H377.88 V64.15 H378.73 V66.33 H379.57 V68.50 H380.00 H381.80 V69.30 H383.60 H383.86 V71.20 H384.38 V73.10 H384.90 V75.00 H385.42 V76.90 H385.94 V78.80 H386.20 H386.65 V80.55 H387.55 V82.30 H388.00 H389.65 V85.00 H391.30 H393.50 V87.50 H395.70 H398.70 V89.20 H401.70 H403.45 V91.00 H405.20 H408.20 V91.80 H411.20 H411.40 V93.55 H411.80 V95.30 H412.00 L482.80,95.30 L482.80,108.70 L513.40,108.70" fill="none" stroke="#b01e3e" stroke-width="1.2" stroke-linejoin="miter"/>
<line x1="376.60" y1="58.00" x2="376.60" y2="61.60" stroke="#b01e3e" stroke-width="1.0"/>
<line x1="387.00" y1="77.00" x2="387.00" y2="80.60" stroke="#b01e3e" stroke-width="1.0"/>
<line x1="391.30" y1="83.20" x2="391.30" y2="86.80" stroke="#b01e3e" stroke-width="1.0"/>
<line x1="400.90" y1="85.70" x2="400.90" y2="89.30" stroke="#b01e3e" stroke-width="1.0"/>
<line x1="406.90" y1="89.20" x2="406.90" y2="92.80" stroke="#b01e3e" stroke-width="1.0"/>
<line x1="408.70" y1="89.20" x2="408.70" y2="92.80" stroke="#b01e3e" stroke-width="1.0"/>
<line x1="417.30" y1="93.50" x2="417.30" y2="97.10" stroke="#b01e3e" stroke-width="1.0"/>
<line x1="426.00" y1="93.50" x2="426.00" y2="97.10" stroke="#b01e3e" stroke-width="1.0"/>
<line x1="433.70" y1="93.50" x2="433.70" y2="97.10" stroke="#b01e3e" stroke-width="1.0"/>
<line x1="441.50" y1="93.50" x2="441.50" y2="97.10" stroke="#b01e3e" stroke-width="1.0"/>
<line x1="443.50" y1="93.50" x2="443.50" y2="97.10" stroke="#b01e3e" stroke-width="1.0"/>
<line x1="476.00" y1="93.50" x2="476.00" y2="97.10" stroke="#b01e3e" stroke-width="1.0"/>
<line x1="502.70" y1="106.90" x2="502.70" y2="110.50" stroke="#b01e3e" stroke-width="1.0"/>
<line x1="513.00" y1="106.90" x2="513.00" y2="110.50" stroke="#b01e3e" stroke-width="1.0"/>
<path d="M117.30,281.50 H120.15 V282.40 H123.00 H124.08 V283.25 H126.22 V284.10 H127.30 H128.17 V285.27 H129.90 V286.43 H131.63 V287.60 H132.50 H134.03 V288.45 H137.07 V289.30 H138.60 H139.14 V290.38 H140.21 V291.45 H141.29 V292.53 H142.36 V293.60 H142.90 H154.15 V294.50 H165.40 H166.25 V295.35 H167.95 V296.20 H168.80 H172.30 V297.60 H175.80 H181.85 V298.00 H187.90 H188.95 V298.80 H190.00 H192.60 V299.70 H195.20 H195.62 V300.55 H196.47 V301.40 H196.90 L204.70,301.40 H205.12 V302.70 H205.97 V304.00 H206.40 L225.50,304.00 L225.50,308.30 L258.40,308.30 L258.40,322.50 L267.50,322.50" fill="none" stroke="#2c4f7c" stroke-width="1.2" stroke-linejoin="miter"/>
<line x1="148.00" y1="291.80" x2="148.00" y2="295.40" stroke="#2c4f7c" stroke-width="1.0"/>
<line x1="152.00" y1="291.80" x2="152.00" y2="295.40" stroke="#2c4f7c" stroke-width="1.0"/>
<line x1="155.00" y1="291.80" x2="155.00" y2="295.40" stroke="#2c4f7c" stroke-width="1.0"/>
<line x1="158.00" y1="291.80" x2="158.00" y2="295.40" stroke="#2c4f7c" stroke-width="1.0"/>
<line x1="161.00" y1="291.80" x2="161.00" y2="295.40" stroke="#2c4f7c" stroke-width="1.0"/>
<line x1="168.00" y1="292.70" x2="168.00" y2="296.30" stroke="#2c4f7c" stroke-width="1.0"/>
<line x1="172.00" y1="294.40" x2="172.00" y2="298.00" stroke="#2c4f7c" stroke-width="1.0"/>
<line x1="178.00" y1="295.80" x2="178.00" y2="299.40" stroke="#2c4f7c" stroke-width="1.0"/>
<line x1="182.00" y1="295.80" x2="182.00" y2="299.40" stroke="#2c4f7c" stroke-width="1.0"/>
<line x1="186.00" y1="295.80" x2="186.00" y2="299.40" stroke="#2c4f7c" stroke-width="1.0"/>
<line x1="193.00" y1="297.00" x2="193.00" y2="300.60" stroke="#2c4f7c" stroke-width="1.0"/>
<line x1="198.00" y1="299.60" x2="198.00" y2="303.20" stroke="#2c4f7c" stroke-width="1.0"/>
<line x1="205.00" y1="299.60" x2="205.00" y2="303.20" stroke="#2c4f7c" stroke-width="1.0"/>
<line x1="208.00" y1="302.20" x2="208.00" y2="305.80" stroke="#2c4f7c" stroke-width="1.0"/>
<line x1="211.00" y1="302.20" x2="211.00" y2="305.80" stroke="#2c4f7c" stroke-width="1.0"/>
<line x1="214.00" y1="302.20" x2="214.00" y2="305.80" stroke="#2c4f7c" stroke-width="1.0"/>
<line x1="217.00" y1="302.20" x2="217.00" y2="305.80" stroke="#2c4f7c" stroke-width="1.0"/>
<line x1="220.00" y1="302.20" x2="220.00" y2="305.80" stroke="#2c4f7c" stroke-width="1.0"/>
<line x1="223.00" y1="302.20" x2="223.00" y2="305.80" stroke="#2c4f7c" stroke-width="1.0"/>
<line x1="227.00" y1="306.50" x2="227.00" y2="310.10" stroke="#2c4f7c" stroke-width="1.0"/>
<line x1="232.00" y1="306.50" x2="232.00" y2="310.10" stroke="#2c4f7c" stroke-width="1.0"/>
<line x1="242.00" y1="306.50" x2="242.00" y2="310.10" stroke="#2c4f7c" stroke-width="1.0"/>
<line x1="255.00" y1="306.50" x2="255.00" y2="310.10" stroke="#2c4f7c" stroke-width="1.0"/>
<line x1="262.00" y1="320.70" x2="262.00" y2="324.30" stroke="#2c4f7c" stroke-width="1.0"/>
<line x1="265.00" y1="320.70" x2="265.00" y2="324.30" stroke="#2c4f7c" stroke-width="1.0"/>
<line x1="267.00" y1="320.70" x2="267.00" y2="324.30" stroke="#2c4f7c" stroke-width="1.0"/>
<path d="M117.30,281.50 H118.28 V283.25 H120.22 V285.00 H121.20 H121.63 V286.43 H122.50 V287.87 H123.37 V289.30 H123.80 H125.55 V290.20 H127.30 H127.59 V291.73 H128.17 V293.27 H128.74 V294.80 H129.32 V296.33 H129.90 V297.87 H130.48 V299.40 H131.06 V300.93 H131.63 V302.47 H132.21 V304.00 H132.50 H135.55 V304.90 H138.60 H138.92 V306.62 H139.57 V308.35 H140.22 V310.07 H140.88 V311.80 H141.20 H147.25 V312.20 H153.30 H153.51 V313.62 H153.94 V315.05 H154.36 V316.47 H154.79 V317.90 H155.00 H160.20 V318.70 H165.40 H166.25 V320.50 H167.10 H171.85 V321.30 H176.60 H176.82 V322.65 H177.28 V324.00 H177.50 L237.10,324.00 L237.10,340.90 L267.50,340.90" fill="none" stroke="#b01e3e" stroke-width="1.2" stroke-linejoin="miter"/>
<line x1="133.00" y1="302.20" x2="133.00" y2="305.80" stroke="#b01e3e" stroke-width="1.0"/>
<line x1="136.00" y1="302.20" x2="136.00" y2="305.80" stroke="#b01e3e" stroke-width="1.0"/>
<line x1="142.00" y1="310.00" x2="142.00" y2="313.60" stroke="#b01e3e" stroke-width="1.0"/>
<line x1="146.00" y1="310.00" x2="146.00" y2="313.60" stroke="#b01e3e" stroke-width="1.0"/>
<line x1="149.00" y1="310.00" x2="149.00" y2="313.60" stroke="#b01e3e" stroke-width="1.0"/>
<line x1="152.00" y1="310.00" x2="152.00" y2="313.60" stroke="#b01e3e" stroke-width="1.0"/>
<line x1="157.00" y1="316.10" x2="157.00" y2="319.70" stroke="#b01e3e" stroke-width="1.0"/>
<line x1="160.00" y1="316.10" x2="160.00" y2="319.70" stroke="#b01e3e" stroke-width="1.0"/>
<line x1="163.00" y1="316.10" x2="163.00" y2="319.70" stroke="#b01e3e" stroke-width="1.0"/>
<line x1="170.00" y1="318.70" x2="170.00" y2="322.30" stroke="#b01e3e" stroke-width="1.0"/>
<line x1="178.00" y1="322.20" x2="178.00" y2="325.80" stroke="#b01e3e" stroke-width="1.0"/>
<line x1="183.00" y1="322.20" x2="183.00" y2="325.80" stroke="#b01e3e" stroke-width="1.0"/>
<line x1="191.00" y1="322.20" x2="191.00" y2="325.80" stroke="#b01e3e" stroke-width="1.0"/>
<line x1="197.00" y1="322.20" x2="197.00" y2="325.80" stroke="#b01e3e" stroke-width="1.0"/>
<line x1="203.00" y1="322.20" x2="203.00" y2="325.80" stroke="#b01e3e" stroke-width="1.0"/>
<line x1="209.00" y1="322.20" x2="209.00" y2="325.80" stroke="#b01e3e" stroke-width="1.0"/>
<line x1="215.00" y1="322.20" x2="215.00" y2="325.80" stroke="#b01e3e" stroke-width="1.0"/>
<line x1="222.00" y1="322.20" x2="222.00" y2="325.80" stroke="#b01e3e" stroke-width="1.0"/>
<line x1="226.00" y1="322.20" x2="226.00" y2="325.80" stroke="#b01e3e" stroke-width="1.0"/>
<line x1="256.00" y1="339.10" x2="256.00" y2="342.70" stroke="#b01e3e" stroke-width="1.0"/>
<line x1="267.00" y1="339.10" x2="267.00" y2="342.70" stroke="#b01e3e" stroke-width="1.0"/>
<path d="M362.80,281.20 L504.80,281.20" fill="none" stroke="#2c4f7c" stroke-width="1.2" stroke-linejoin="miter"/>
<line x1="388.70" y1="279.40" x2="388.70" y2="283.00" stroke="#2c4f7c" stroke-width="1.0"/>
<line x1="396.50" y1="279.40" x2="396.50" y2="283.00" stroke="#2c4f7c" stroke-width="1.0"/>
<line x1="398.30" y1="279.40" x2="398.30" y2="283.00" stroke="#2c4f7c" stroke-width="1.0"/>
<line x1="400.30" y1="279.40" x2="400.30" y2="283.00" stroke="#2c4f7c" stroke-width="1.0"/>
<line x1="402.60" y1="279.40" x2="402.60" y2="283.00" stroke="#2c4f7c" stroke-width="1.0"/>
<line x1="423.90" y1="279.40" x2="423.90" y2="283.00" stroke="#2c4f7c" stroke-width="1.0"/>
<line x1="432.90" y1="279.40" x2="432.90" y2="283.00" stroke="#2c4f7c" stroke-width="1.0"/>
<line x1="434.30" y1="279.40" x2="434.30" y2="283.00" stroke="#2c4f7c" stroke-width="1.0"/>
<line x1="438.10" y1="279.40" x2="438.10" y2="283.00" stroke="#2c4f7c" stroke-width="1.0"/>
<line x1="458.40" y1="279.40" x2="458.40" y2="283.00" stroke="#2c4f7c" stroke-width="1.0"/>
<line x1="465.30" y1="279.40" x2="465.30" y2="283.00" stroke="#2c4f7c" stroke-width="1.0"/>
<line x1="472.30" y1="279.40" x2="472.30" y2="283.00" stroke="#2c4f7c" stroke-width="1.0"/>
<line x1="504.80" y1="279.40" x2="504.80" y2="283.00" stroke="#2c4f7c" stroke-width="1.0"/>
<path d="M362.80,281.20 H364.10 V284.10 H365.40 H366.05 V285.85 H367.35 V287.60 H368.00 H368.85 V289.30 H369.70 H371.00 V291.90 H372.30 H372.75 V294.50 H373.20 H373.62 V297.10 H374.47 V299.70 H374.90 H375.33 V302.00 H376.20 V304.30 H377.07 V306.60 H377.50 H377.93 V309.20 H378.77 V311.80 H379.20 L385.30,311.80 H385.50 V313.83 H385.90 V315.87 H386.30 V317.90 H386.50 H386.62 V319.60 H386.88 V321.30 H387.00 L400.00,321.30 H400.11 V323.25 H400.34 V325.20 H400.56 V327.15 H400.79 V329.10 H400.90 L411.20,329.10 H411.65 V331.25 H412.55 V333.40 H413.00 L421.60,333.40 H421.83 V336.00 H422.27 V338.60 H422.50 L483.00,338.60 L483.00,355.80 L513.40,355.80" fill="none" stroke="#b01e3e" stroke-width="1.2" stroke-linejoin="miter"/>
<line x1="375.00" y1="297.90" x2="375.00" y2="301.50" stroke="#b01e3e" stroke-width="1.0"/>
<line x1="388.00" y1="319.50" x2="388.00" y2="323.10" stroke="#b01e3e" stroke-width="1.0"/>
<line x1="393.00" y1="319.50" x2="393.00" y2="323.10" stroke="#b01e3e" stroke-width="1.0"/>
<line x1="397.00" y1="319.50" x2="397.00" y2="323.10" stroke="#b01e3e" stroke-width="1.0"/>
<line x1="403.00" y1="327.30" x2="403.00" y2="330.90" stroke="#b01e3e" stroke-width="1.0"/>
<line x1="406.00" y1="327.30" x2="406.00" y2="330.90" stroke="#b01e3e" stroke-width="1.0"/>
<line x1="409.00" y1="327.30" x2="409.00" y2="330.90" stroke="#b01e3e" stroke-width="1.0"/>
<line x1="418.00" y1="331.60" x2="418.00" y2="335.20" stroke="#b01e3e" stroke-width="1.0"/>
<line x1="433.80" y1="336.80" x2="433.80" y2="340.40" stroke="#b01e3e" stroke-width="1.0"/>
<line x1="438.70" y1="336.80" x2="438.70" y2="340.40" stroke="#b01e3e" stroke-width="1.0"/>
<line x1="443.50" y1="336.80" x2="443.50" y2="340.40" stroke="#b01e3e" stroke-width="1.0"/>
<line x1="452.40" y1="336.80" x2="452.40" y2="340.40" stroke="#b01e3e" stroke-width="1.0"/>
<line x1="476.60" y1="336.80" x2="476.60" y2="340.40" stroke="#b01e3e" stroke-width="1.0"/>
<line x1="503.00" y1="354.00" x2="503.00" y2="357.60" stroke="#b01e3e" stroke-width="1.0"/>
<line x1="513.40" y1="354.00" x2="513.40" y2="357.60" stroke="#b01e3e" stroke-width="1.0"/>
<text x="7.30" y="523.10" font-size="12.2" text-anchor="start" fill="#111" font-weight="bold" font-style="normal" stroke="#111" stroke-width="0.45">C</text>
<ellipse cx="132.25" cy="552.4" rx="66.2" ry="19.7" fill="none" stroke="#333" stroke-width="1.1"/>
<ellipse cx="95.1" cy="627.7" rx="39.1" ry="20" fill="none" stroke="#333" stroke-width="1.1"/>
<ellipse cx="178.45" cy="627.7" rx="39" ry="20" fill="none" stroke="#333" stroke-width="1.1"/>
<text x="90.1" y="550.5" font-size="8.4" fill="#333">ctDNA ≥ 2.5 Log<tspan font-size="5.8" dy="1.7">10</tspan><tspan dy="-1.7">hGE</tspan></text>
<text x="117" y="560.5" font-size="8.4" fill="#333" textLength="32" lengthAdjust="spacing"><tspan font-style="italic">P</tspan> = .013</text>
<text x="86.20" y="588.00" font-size="8.4" text-anchor="middle" fill="#333" stroke="#333" stroke-width="0.18" font-weight="normal" font-style="normal" textLength="13" lengthAdjust="spacingAndGlyphs" >NO</text>
<text x="179.30" y="588.00" font-size="8.4" text-anchor="middle" fill="#333" stroke="#333" stroke-width="0.18" font-weight="normal" font-style="normal" textLength="16.4" lengthAdjust="spacingAndGlyphs" >YES</text>
<polygon points="110.60,577.20 116.70,582.40 101.50,601.20 104.60,603.70 92.30,604.70 91.50,592.60 94.10,595.50" fill="#d3d5ea" stroke="#2a2a2a" stroke-width="1.15" stroke-linejoin="miter"/>
<polygon points="155.00,577.20 148.90,582.40 164.10,601.20 161.00,603.70 173.30,604.70 174.10,592.60 171.50,595.50" fill="#d3d5ea" stroke="#2a2a2a" stroke-width="1.15" stroke-linejoin="miter"/>
<text x="94.95" y="625.80" font-size="8.2" text-anchor="middle" fill="#333" stroke="#333" stroke-width="0.18" font-weight="normal" font-style="normal" textLength="38.5" lengthAdjust="spacingAndGlyphs" >Not further</text>
<text x="95.20" y="635.70" font-size="8.2" text-anchor="middle" fill="#333" stroke="#333" stroke-width="0.18" font-weight="normal" font-style="normal" textLength="32" lengthAdjust="spacingAndGlyphs" >Stratified</text>
<text x="178.55" y="620.30" font-size="8.3" text-anchor="middle" fill="#333" stroke="#333" stroke-width="0.18" font-weight="normal" font-style="normal" textLength="25.9" lengthAdjust="spacingAndGlyphs" >Cluster</text>
<text x="178.60" y="630.60" font-size="8.5" text-anchor="middle" fill="#333" stroke="#333" stroke-width="0.18" font-weight="normal" font-style="normal" textLength="35.2" lengthAdjust="spacingAndGlyphs" >ST2/BN2</text>
<text x="162.1" y="641.0" font-size="8.4" fill="#333" textLength="32.9" lengthAdjust="spacing"><tspan font-style="italic">P</tspan> = .038</text>
<rect x="0.6" y="0.6" width="518.8" height="653" fill="none" stroke="#444" stroke-width="1.3"/>
</svg></body></html>
